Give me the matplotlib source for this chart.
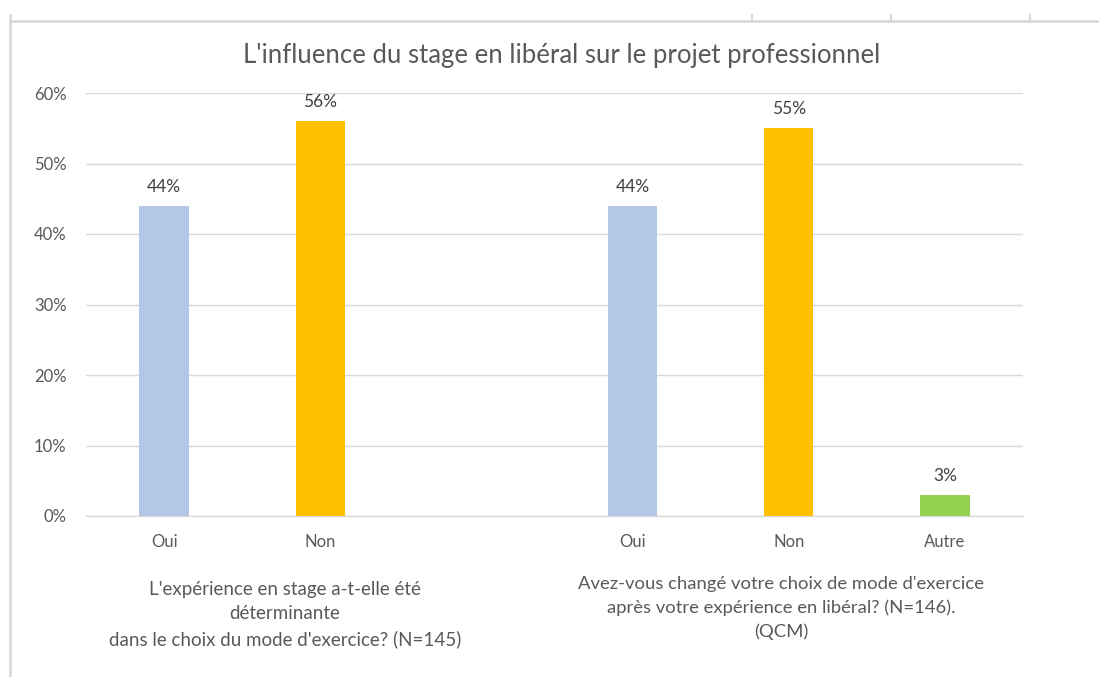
import matplotlib
matplotlib.use("Agg")
import matplotlib.pyplot as plt
from matplotlib.lines import Line2D
import matplotlib.transforms as mtransforms

# ---- data ----
title = "L'influence du stage en libéral sur le projet professionnel"
group1_question = "L'expérience en stage a-t-elle été\ndéterminante\ndans le choix du mode d'exercice? (N=145)"
group2_question = "Avez-vous changé votre choix de mode d'exercice\naprès votre expérience en libéral? (N=146).\n(QCM)"
group1_labels = ["Oui", "Non"]
group1_values = [44, 56]
group2_labels = ["Oui", "Non", "Autre"]
group2_values = [44, 55, 3]
y_ticks = [0, 10, 20, 30, 40, 50, 60]

col_oui = "#B4C7E7"
col_non = "#FFC000"
col_autre = "#92D050"
colors1 = [col_oui, col_non]
colors2 = [col_oui, col_non, col_autre]

FONT = "Lato"
W, H = 1099, 677
fig = plt.figure(figsize=(W / 100, H / 100), dpi=100)
fig.patch.set_facecolor("white")

ax = fig.add_axes([86 / W, 1 - 516 / H, (1023 - 86) / W, (516 - 93) / H])

pos1 = [0, 1]
pos2 = [3, 4, 5]
bw = 0.315
b1 = ax.bar(pos1, group1_values, width=bw, color=colors1, zorder=3)
b2 = ax.bar(pos2, group2_values, width=bw, color=colors2, zorder=3)

ax.set_xlim(-0.5, 5.5)
ax.set_ylim(0, 60)
ax.set_yticks(y_ticks)
ax.set_yticklabels([f"{v}%" for v in y_ticks], fontsize=12, color="#595959", family=FONT)
ax.tick_params(axis="y", length=0, pad=14)
ax.set_xticks(pos1 + pos2)
ax.set_xticklabels(group1_labels + group2_labels, fontsize=12, color="#595959", family=FONT)
ax.tick_params(axis="x", length=0, pad=13)
ax.grid(axis="y", color="#D9D9D9", linewidth=1, zorder=0)
for s in ["top", "right", "left"]:
    ax.spines[s].set_visible(False)
ax.spines["bottom"].set_color("#D9D9D9")
ax.spines["bottom"].set_linewidth(1)

for bars, vals in [(b1, group1_values), (b2, group2_values)]:
    for b, v in zip(bars, vals):
        ax.annotate(f"{v}%", (b.get_x() + b.get_width() / 2, v), xytext=(0, 8),
                    textcoords="offset points", ha="center", va="bottom",
                    fontsize=12.5, color="#404040", family=FONT)

trans = mtransforms.blended_transform_factory(ax.transData, fig.transFigure)
ax.text(0.774, 1 - 581 / H, group1_question, transform=trans, ha="center", va="top",
        fontsize=13.5, color="#595959", family=FONT, linespacing=1.52, multialignment="center")
ax.text(3.95, 1 - 576 / H, group2_question, transform=trans, ha="center", va="top",
        fontsize=13.3, color="#595959", family=FONT, linespacing=1.55, multialignment="center")

fig.text(562 / W, 1 - 56 / H, title, ha="center", va="center", fontsize=18.5,
         color="#595959", family=FONT)

# spreadsheet frame artifacts
lc = "#D9D9D9"
fig.add_artist(Line2D([10 / W, 1], [1 - 21 / H, 1 - 21 / H], color=lc, lw=2, transform=fig.transFigure))
fig.add_artist(Line2D([10 / W, 10 / W], [1 - 15 / H, 0], color=lc, lw=2, transform=fig.transFigure))
for xp in [752, 891, 1030]:
    fig.add_artist(Line2D([xp / W, xp / W], [1 - 15 / H, 1 - 21 / H], color=lc, lw=1.5, transform=fig.transFigure))

fig.savefig("out.png", dpi=100, facecolor="white")
